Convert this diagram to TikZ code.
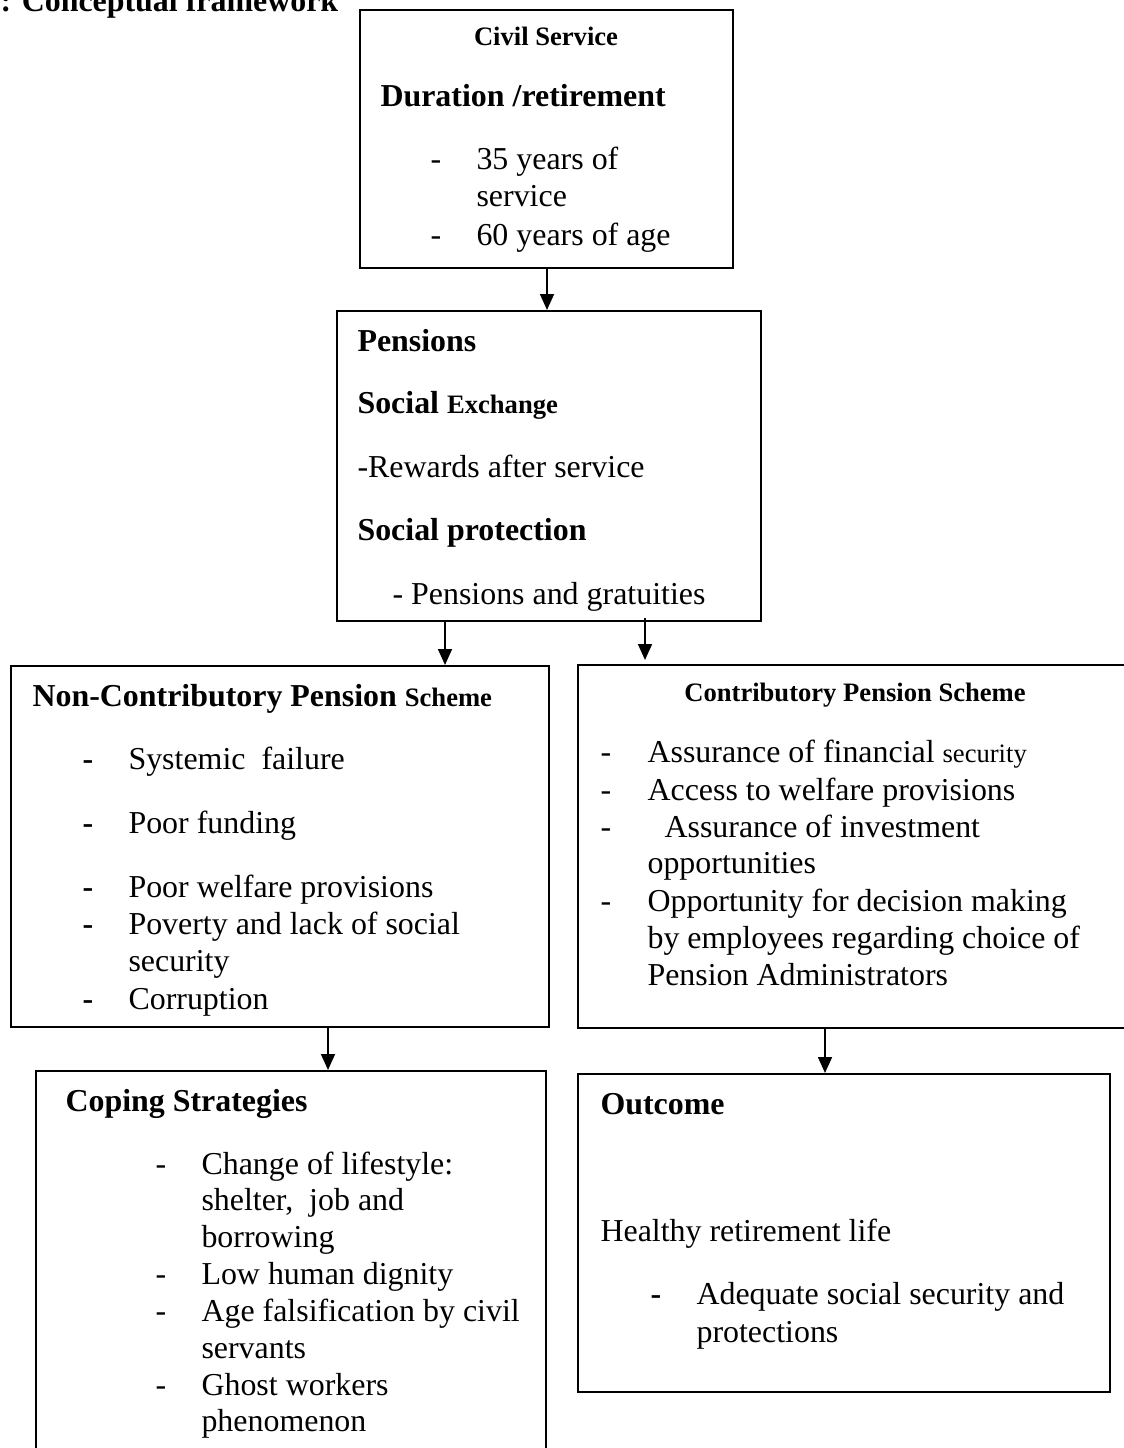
\documentclass[tikz,border=0pt]{standalone}
\usepackage{fontspec}
\setmainfont{Liberation Serif}
\usetikzlibrary{arrows.meta,positioning,fit}
\tikzset{
	box/.style={rectangle,draw=black,line width=0.75pt,fill=white,inner sep=0pt},
	txt/.style={anchor=base west,inner sep=0pt,font=\fontsize{12}{14}\selectfont},
	head/.style={txt,font=\fontsize{12}{14}\selectfont\bfseries},
	subhead/.style={txt,font=\fontsize{10}{12}\selectfont\bfseries},
	bul/.style={txt},
	link/.style={-{Triangle[width=5.2pt,length=6pt]},line width=0.8pt}
}
\newcommand{\smallsz}{\fontsize{10}{12}\selectfont}

\begin{document}
\begin{tikzpicture}[x=0.376pt,y=-0.376pt]
		\useasboundingbox (0,0) rectangle (1123,1448);
		\node[head] (title) at (0,12) {: Conceptual framework};

		% boxes
		\node[box,fit={(360,10) (733,268)}] (civil) {};
		\node[box,fit={(337,311) (761,621)}] (pens) {};
		\node[box,fit={(11,666) (549,1027)}] (noncon) {};
		\node[box,fit={(578,665) (1140,1028)}] (contrib) {};
		\node[box,fit={(36,1071) (546,1470)}] (coping) {};
		\node[box,fit={(578,1074) (1110,1392)}] (outcome) {};

		% civil service
		\node[subhead,anchor=base] (cs1) at (546,46) {Civil Service};
		\node[head] (cs2) at (380,107) {Duration /retirement};
		\node[bul] (cs3) at (430,170) {-};
		\node[txt] (cs4) at (476,170) {35 years of};
		\node[txt] (cs5) at (476,207) {service};
		\node[bul] (cs6) at (430,246) {-};
		\node[txt] (cs7) at (476,246) {60 years of age};

		% pensions
		\node[head] (pe1) at (357,352) {Pensions};
		\node[head] (pe2) at (357,414) {Social {\smallsz Exchange}};
		\node[txt] (pe3) at (357,477) {-Rewards after service};
		\node[head] (pe4) at (357,541) {Social protection};
		\node[txt] (pe5) at (392,604) {- Pensions and gratuities};

		% non-contributory
		\node[head] (nc0) at (32,706) {Non-Contributory Pension {\smallsz Scheme}};
		\node[bul,font=\fontsize{12}{14}\selectfont\bfseries] (nd1) at (82,769) {-};
		\node[txt] (nc1) at (128,769) {Systemic\ \ failure};
		\node[bul,font=\fontsize{12}{14}\selectfont\bfseries] (nd2) at (82,833) {-};
		\node[txt] (nc2) at (128,833) {Poor funding};
		\node[bul,font=\fontsize{12}{14}\selectfont\bfseries] (nd3) at (82,897) {-};
		\node[txt] (nc3) at (128,897) {Poor welfare provisions};
		\node[bul,font=\fontsize{12}{14}\selectfont\bfseries] (nd4) at (82,934) {-};
		\node[txt] (nc4) at (128,934) {Poverty and lack of social};
		\node[txt] (nc5) at (128,971) {security};
		\node[bul,font=\fontsize{12}{14}\selectfont\bfseries] (nd6) at (82,1009) {-};
		\node[txt] (nc6) at (128,1009) {Corruption};

		% contributory
		\node[subhead,anchor=base] (co0) at (855,701) {Contributory Pension Scheme};
		\node[bul] (cd1) at (600,762) {-};
		\node[txt] (co1) at (647,762) {Assurance of financial {\smallsz security}};
		\node[bul] (cd2) at (600,800) {-};
		\node[txt] (co2) at (647,800) {Access to welfare provisions};
		\node[bul] (cd3) at (600,837) {-};
		\node[txt] (co3) at (664,837) {Assurance of investment};
		\node[txt] (co4) at (647,873) {opportunities};
		\node[bul] (cd5) at (600,911) {-};
		\node[txt] (co5) at (647,911) {Opportunity for decision making};
		\node[txt] (co6) at (647,948) {by employees regarding choice of};
		\node[txt] (co7) at (647,985) {Pension Administrators};

		% coping strategies
		\node[head] (cp0) at (65,1111) {Coping Strategies};
		\node[bul] (pd1) at (155,1174) {-};
		\node[txt] (cp1) at (201,1174) {Change of lifestyle:};
		\node[txt] (cp2) at (201,1210) {shelter,\ \ job and};
		\node[txt] (cp3) at (201,1247) {borrowing};
		\node[bul] (pd4) at (155,1284) {-};
		\node[txt] (cp4) at (201,1284) {Low human dignity};
		\node[bul] (pd5) at (155,1321) {-};
		\node[txt] (cp5) at (201,1321) {Age falsification by civil};
		\node[txt] (cp6) at (201,1358) {servants};
		\node[bul] (pd7) at (155,1395) {-};
		\node[txt] (cp7) at (201,1395) {Ghost workers};
		\node[txt] (cp8) at (201,1431) {phenomenon};

		% outcome
		\node[head] (ou0) at (600,1114) {Outcome};
		\node[txt] (ou1) at (600,1241) {Healthy retirement life};
		\node[bul,font=\fontsize{12}{14}\selectfont\bfseries] (od2) at (650,1304) {-};
		\node[txt] (ou2) at (696,1304) {Adequate social security and};
		\node[txt] (ou3) at (696,1342) {protections};

		% arrows
		\coordinate (a1) at (547,0);
		\coordinate (a2) at (445,0);
		\coordinate (a3) at (645,0);
		\coordinate (a4) at (328,0);
		\coordinate (a5) at (825,0);
		\draw[link] (civil.south -| a1) -- (pens.north -| a1);
		\draw[link] (pens.south -| a2) -- (noncon.north -| a2);
		\draw[link] ([yshift=1.5pt]pens.south -| a3) -- ([yshift=1.5pt]contrib.north -| a3);
		\draw[link] (noncon.south -| a4) -- (coping.north -| a4);
		\draw[link] (contrib.south -| a5) -- (outcome.north -| a5);
\end{tikzpicture}
\end{document}
